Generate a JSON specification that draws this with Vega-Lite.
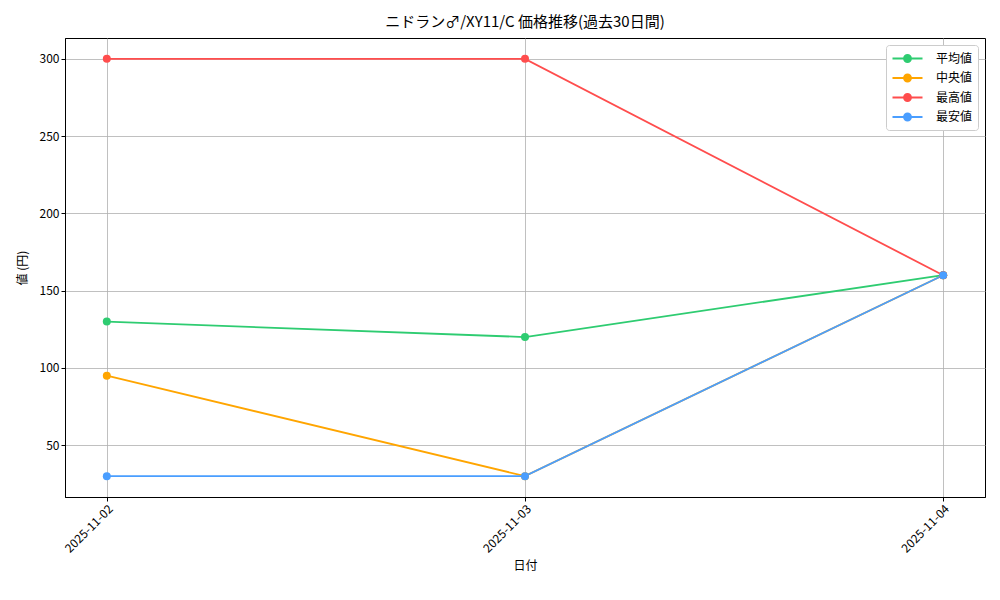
{
  "$schema": "https://vega.github.io/schema/vega-lite/v6.json",
  "autosize": "none",
  "width": 920,
  "height": 459,
  "padding": {"left": 65, "top": 38, "right": 15, "bottom": 103},
  "background": "white",
  "title": {
    "text": "ニドラン♂/XY11/C 価格推移(過去30日間)",
    "font": "Noto Sans CJK JP",
    "fontSize": 15,
    "fontWeight": "normal",
    "color": "black",
    "anchor": "middle",
    "offset": 8
  },
  "config": {
    "font": "Noto Sans CJK JP",
    "view": {"stroke": "black", "strokeWidth": 1},
    "axis": {
      "labelFont": "Noto Sans CJK JP",
      "labelFontSize": 12,
      "labelColor": "black",
      "titleFont": "Noto Sans CJK JP",
      "titleFontSize": 12,
      "titleFontWeight": "normal",
      "titleColor": "black",
      "domainColor": "black",
      "tickColor": "black",
      "tickSize": 4,
      "gridColor": "#b0b0b0",
      "gridWidth": 0.8,
      "gridOpacity": 1
    }
  },
  "data": {
    "values": [
      {"date": "2025-11-02", "series": "平均値", "value": 130},
      {"date": "2025-11-03", "series": "平均値", "value": 120},
      {"date": "2025-11-04", "series": "平均値", "value": 160},
      {"date": "2025-11-02", "series": "中央値", "value": 95},
      {"date": "2025-11-03", "series": "中央値", "value": 30},
      {"date": "2025-11-04", "series": "中央値", "value": 160},
      {"date": "2025-11-02", "series": "最高値", "value": 300},
      {"date": "2025-11-03", "series": "最高値", "value": 300},
      {"date": "2025-11-04", "series": "最高値", "value": 160},
      {"date": "2025-11-02", "series": "最安値", "value": 30},
      {"date": "2025-11-03", "series": "最安値", "value": 30},
      {"date": "2025-11-04", "series": "最安値", "value": 160}
    ]
  },
  "mark": {"type": "line", "strokeWidth": 1.8, "point": {"filled": true, "size": 64, "opacity": 1}},
  "encoding": {
    "x": {
      "field": "date",
      "type": "ordinal",
      "sort": null,
      "scale": {"type": "point", "padding": 0.1},
      "axis": {"title": "日付", "labelAngle": -45, "grid": true, "titlePadding": 6}
    },
    "y": {
      "field": "value",
      "type": "quantitative",
      "scale": {"domain": [16.5, 313.5], "nice": false, "zero": false},
      "axis": {"title": "値 (円)", "values": [50, 100, 150, 200, 250, 300], "grid": true, "titlePadding": 10}
    },
    "color": {
      "field": "series",
      "type": "nominal",
      "sort": null,
      "scale": {
        "domain": ["平均値", "中央値", "最高値", "最安値"],
        "range": ["#2ecc71", "#ffa500", "#ff4d4d", "#4a9eff"]
      },
      "legend": {
        "title": null,
        "orient": "top-right",
        "offset": 7,
        "padding": 5,
        "strokeColor": "#cccccc",
        "fillColor": "white",
        "cornerRadius": 3,
        "labelFont": "Noto Sans CJK JP",
        "labelFontSize": 12,
        "labelColor": "black",
        "labelOffset": 20,
        "symbolOffset": 8,
        "rowPadding": 3.5,
        "symbolType": "M-2,0H2M-0.47,0A0.47,0.47 0 1,1 0.47,0A0.47,0.47 0 1,1 -0.47,0Z",
        "symbolSize": 225,
        "symbolStrokeWidth": 1.8,
        "symbolOpacity": 1
      }
    }
  }
}
